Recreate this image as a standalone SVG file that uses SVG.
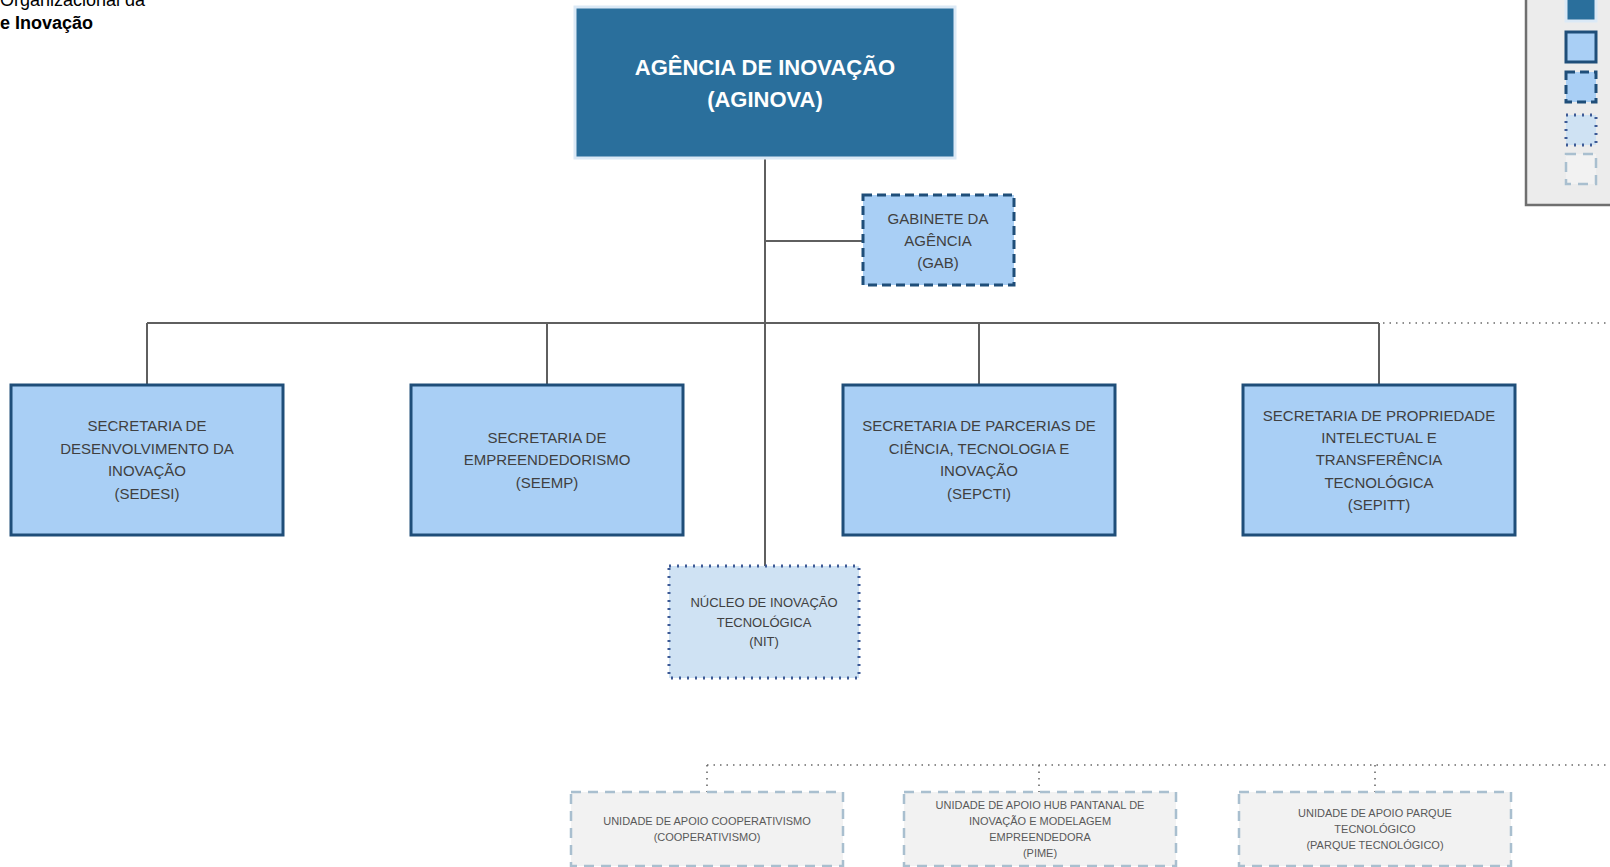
<svg xmlns="http://www.w3.org/2000/svg" width="1610" height="867" viewBox="0 0 1610 867">
<style>
text{font-family:"Liberation Sans",Arial,sans-serif;text-anchor:middle}
.title{text-anchor:start;fill:#000;font-size:18px}
.top{fill:#2a6f9c;stroke:#dbe9f6;stroke-width:3}
.toptxt{fill:#fff;font-size:22px;font-weight:bold}
.sec{fill:#a9cff5;stroke:#1f4e79;stroke-width:3}
.gab{fill:#a9cff5;stroke:#1f4e79;stroke-width:3;stroke-dasharray:9 5}
.nit{fill:#cfe2f3;stroke:#3d5a96;stroke-width:3;stroke-dasharray:2 6}
.unit{fill:#f2f2f2;stroke:#a9bfcf;stroke-width:2.5;stroke-dasharray:10 7}
.t15{fill:#404040;font-size:15px}
.t13{fill:#404040;font-size:13px}
.t11{fill:#595959;font-size:11px}
.line{stroke:#5f5f5f;stroke-width:2;fill:none}
.dot{stroke:#6a6a6a;stroke-width:1.6;fill:none;stroke-dasharray:1.5 5}
</style>
<rect width="1610" height="867" fill="#fff"/>
<text class="title" x="0" y="6">Organizacional da</text>
<text class="title" x="0" y="29" font-weight="bold">e Inovação</text>

<g id="legend">
<rect x="1526" y="-10" width="100" height="215" fill="#ececec" stroke="#6f6f6f" stroke-width="2.5"/>
<rect x="1566" y="-10" width="30" height="31" class="top" stroke-width="2"/>
<rect x="1566" y="32" width="30" height="30" class="sec"/>
<rect x="1566" y="72" width="30" height="30" class="gab" stroke-dasharray="7 4"/>
<rect x="1566" y="115" width="30" height="30" class="nit" stroke-width="2" stroke-dasharray="2 5"/>
<rect x="1566" y="154" width="30" height="30" class="unit" stroke-width="2" stroke-dasharray="7 5"/>
</g>

<g id="connectors">
<line class="line" x1="765" y1="158" x2="765" y2="566"/>
<line class="line" x1="765" y1="241" x2="863" y2="241"/>
<line class="line" x1="147" y1="323" x2="1379" y2="323"/>
<line class="line" x1="147" y1="323" x2="147" y2="384"/>
<line class="line" x1="547" y1="323" x2="547" y2="384"/>
<line class="line" x1="979" y1="323" x2="979" y2="384"/>
<line class="line" x1="1379" y1="323" x2="1379" y2="384"/>
<line class="dot" x1="1383" y1="323" x2="1610" y2="323"/>
<line class="dot" x1="707" y1="765" x2="1610" y2="765"/>
<line class="dot" x1="707" y1="765" x2="707" y2="792"/>
<line class="dot" x1="1039" y1="765" x2="1039" y2="792"/>
<line class="dot" x1="1375" y1="765" x2="1375" y2="792"/>
</g>

<g id="aginova">
<rect x="575" y="7" width="380" height="151" class="top"/>
<text class="toptxt" x="765" y="75">AGÊNCIA DE INOVAÇÃO</text>
<text class="toptxt" x="765" y="107">(AGINOVA)</text>
</g>

<g id="gab">
<rect x="863" y="195" width="151" height="90" class="gab"/>
<text class="t15" x="938" y="224">GABINETE DA</text>
<text class="t15" x="938" y="246">AGÊNCIA</text>
<text class="t15" x="938" y="268">(GAB)</text>
</g>

<g id="sedesi">
<rect x="11" y="385" width="272" height="150" class="sec"/>
<text class="t15" x="147" y="431">SECRETARIA DE</text>
<text class="t15" x="147" y="454">DESENVOLVIMENTO DA</text>
<text class="t15" x="147" y="476">INOVAÇÃO</text>
<text class="t15" x="147" y="499">(SEDESI)</text>
</g>

<g id="seemp">
<rect x="411" y="385" width="272" height="150" class="sec"/>
<text class="t15" x="547" y="443">SECRETARIA DE</text>
<text class="t15" x="547" y="465">EMPREENDEDORISMO</text>
<text class="t15" x="547" y="488">(SEEMP)</text>
</g>

<g id="sepcti">
<rect x="843" y="385" width="272" height="150" class="sec"/>
<text class="t15" x="979" y="431">SECRETARIA DE PARCERIAS DE</text>
<text class="t15" x="979" y="454">CIÊNCIA, TECNOLOGIA E</text>
<text class="t15" x="979" y="476">INOVAÇÃO</text>
<text class="t15" x="979" y="499">(SEPCTI)</text>
</g>

<g id="sepitt">
<rect x="1243" y="385" width="272" height="150" class="sec"/>
<text class="t15" x="1379" y="421">SECRETARIA DE PROPRIEDADE</text>
<text class="t15" x="1379" y="443">INTELECTUAL E</text>
<text class="t15" x="1379" y="465">TRANSFERÊNCIA</text>
<text class="t15" x="1379" y="488">TECNOLÓGICA</text>
<text class="t15" x="1379" y="510">(SEPITT)</text>
</g>

<g id="nit">
<rect x="669" y="566" width="190" height="112" class="nit"/>
<text class="t13" x="764" y="607">NÚCLEO DE INOVAÇÃO</text>
<text class="t13" x="764" y="627">TECNOLÓGICA</text>
<text class="t13" x="764" y="646">(NIT)</text>
</g>

<g id="cooperativismo">
<rect x="571" y="792" width="272" height="74" class="unit"/>
<text class="t11" x="707" y="825">UNIDADE DE APOIO COOPERATIVISMO</text>
<text class="t11" x="707" y="841">(COOPERATIVISMO)</text>
</g>

<g id="pime">
<rect x="904" y="792" width="272" height="74" class="unit"/>
<text class="t11" x="1040" y="809">UNIDADE DE APOIO HUB PANTANAL DE</text>
<text class="t11" x="1040" y="825">INOVAÇÃO E MODELAGEM</text>
<text class="t11" x="1040" y="841">EMPREENDEDORA</text>
<text class="t11" x="1040" y="857">(PIME)</text>
</g>

<g id="parque">
<rect x="1239" y="792" width="272" height="74" class="unit"/>
<text class="t11" x="1375" y="817">UNIDADE DE APOIO PARQUE</text>
<text class="t11" x="1375" y="833">TECNOLÓGICO</text>
<text class="t11" x="1375" y="849">(PARQUE TECNOLÓGICO)</text>
</g>
</svg>
